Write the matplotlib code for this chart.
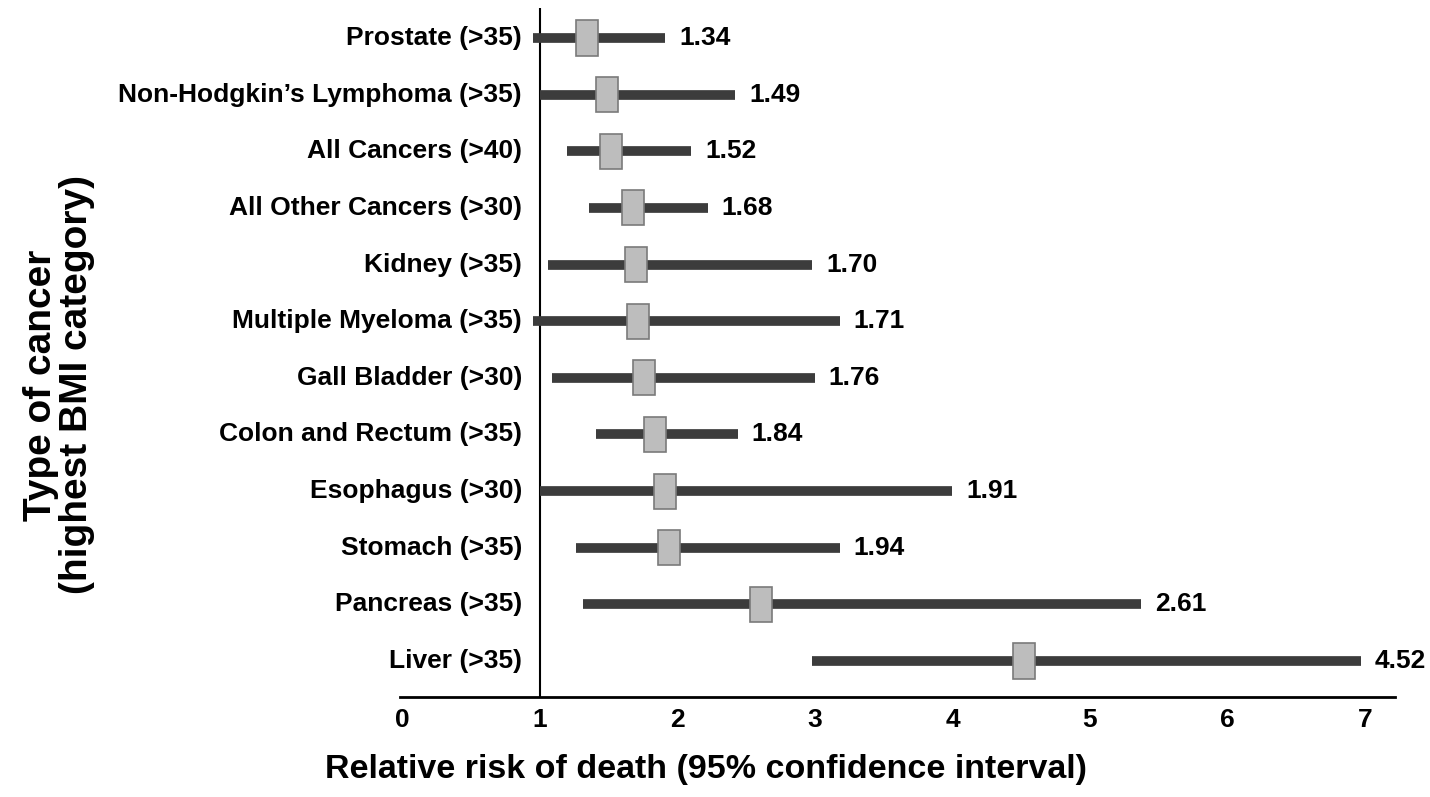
import matplotlib.pyplot as plt
from matplotlib.patches import Rectangle

plt.rcParams['font.family'] = ['Liberation Sans', 'DejaVu Sans']

# values (top to bottom)
cancers = ['Prostate (>35)', "Non-Hodgkin’s Lymphoma (>35)", 'All Cancers (>40)',
           'All Other Cancers (>30)', 'Kidney (>35)', 'Multiple Myeloma (>35)',
           'Gall Bladder (>30)', 'Colon and Rectum (>35)', 'Esophagus (>30)',
           'Stomach (>35)', 'Pancreas (>35)', 'Liver (>35)']
rr = [1.34, 1.49, 1.52, 1.68, 1.70, 1.71, 1.76, 1.84, 1.91, 1.94, 2.61, 4.52]
ci_low = [0.95, 1.00, 1.20, 1.36, 1.06, 0.95, 1.09, 1.41, 1.00, 1.26, 1.31, 2.98]
ci_high = [1.91, 2.42, 2.10, 2.22, 2.98, 3.18, 3.00, 2.44, 4.00, 3.18, 5.37, 6.97]
xticks = [0, 1, 2, 3, 4, 5, 6, 7]

fig = plt.figure(figsize=(14.3, 7.97), dpi=100)
ax = fig.add_axes([0.2797, 0.1255, 0.6958, 0.8645])

for i in range(len(cancers)):
    ax.plot([ci_low[i], ci_high[i]], [i, i], color='#3c3c3c', lw=7,
            solid_capstyle='butt', zorder=2)
    ax.add_patch(Rectangle((rr[i] - 0.08, i - 0.31), 0.16, 0.62,
                           facecolor='#bdbdbd', edgecolor='#7a7a7a', lw=1.2, zorder=3))
    ax.annotate('%.2f' % rr[i], (ci_high[i], i), xytext=(10, 0),
                textcoords='offset points', ha='left', va='center',
                fontsize=19, fontweight='bold')
    ax.text(0.87, i, cancers[i], ha='right', va='center', fontsize=19,
            fontweight='bold')

ax.axvline(1, color='black', lw=1.5, zorder=1)

ax.set_xlim(-0.018, 7.218)
ax.set_ylim(11.635, -0.53)
ax.set_xticks(xticks)
ax.set_xticklabels([str(t) for t in xticks], fontsize=19, fontweight='bold')
ax.tick_params(axis='x', length=0, pad=8)
ax.set_yticks([])
for s in ['top', 'right', 'left']:
    ax.spines[s].set_visible(False)
ax.spines['bottom'].set_linewidth(2)

fig.text(0.494, 0.034, 'Relative risk of death (95% confidence interval)',
         ha='center', va='center', fontsize=24.5, fontweight='bold')
fig.text(0.041, 0.517, 'Type of cancer\n(highest BMI category)', rotation=90,
         ha='center', va='center', fontsize=28, fontweight='bold', linespacing=1.0)

fig.savefig('out.png', dpi=100)
